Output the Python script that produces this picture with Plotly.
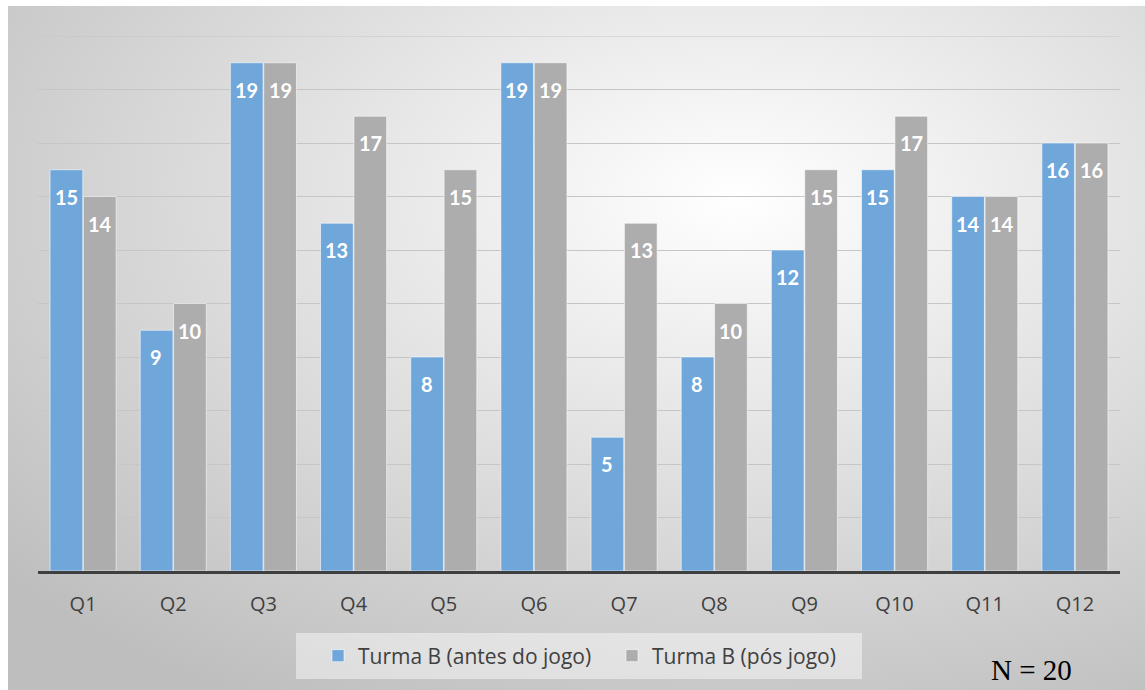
import base64
import plotly.graph_objects as go

categories = ["Q1", "Q2", "Q3", "Q4", "Q5", "Q6", "Q7", "Q8", "Q9", "Q10", "Q11", "Q12"]
antes = [15, 9, 19, 13, 8, 19, 5, 8, 12, 15, 14, 16]
pos = [14, 10, 19, 17, 15, 19, 13, 10, 15, 17, 14, 16]
series_names = ["Turma B (antes do jogo)", "Turma B (pós jogo)"]
colors = ["#6FA7DB", "#ADADAD"]

W, H = 1145, 690
L, R, T, B = 38, 25, 36, 119
pw, ph = W - L - R, H - T - B
base = H - B


def px_x(p):
    return (p - L) / pw


def px_y(p):
    return (base - p) / ph


svg = (
    '<svg xmlns="http://www.w3.org/2000/svg" width="1137" height="684" preserveAspectRatio="none">'
    '<defs><radialGradient id="g" cx="0.64" cy="0.28" r="0.85" fx="0.64" fy="0.28">'
    '<stop offset="0" stop-color="#ffffff"/><stop offset="1" stop-color="#bebebe"/>'
    '</radialGradient></defs><rect width="1137" height="684" fill="url(#g)"/></svg>'
)
src = "data:image/svg+xml;base64," + base64.b64encode(svg.encode()).decode()

fig = go.Figure()
for name, vals, col in zip(series_names, [antes, pos], colors):
    fig.add_trace(go.Bar(
        x=categories, y=vals, name=name,
        marker=dict(color=col, line=dict(color="rgba(255,255,255,0.55)", width=1)),
    ))

annotations = []
for vals, shift in [(antes, -17), (pos, 17)]:
    for c, v in zip(categories, vals):
        annotations.append(dict(
            x=c, y=v, xref="x", yref="y", text=str(v), showarrow=False,
            xshift=shift, yshift=-27,
            font=dict(family="Lato", size=20, color="white", weight="bold"),
        ))
annotations.append(dict(
    x=px_x(1031), y=px_y(670), xref="paper", yref="paper",
    xanchor="center", yanchor="middle",
    text="N = 20", showarrow=False,
    font=dict(family="Liberation Serif", size=29, color="black"),
))

shapes = [
    dict(type="rect", xref="paper", yref="paper",
         x0=px_x(296), x1=px_x(862), y0=px_y(679), y1=px_y(633),
         fillcolor="rgba(255,255,255,0.45)", line=dict(width=0), layer="below"),
    dict(type="line", xref="paper", yref="y", x0=0, x1=1, y0=20, y1=20,
         line=dict(color="#C6C6C6", width=1), layer="below"),
]

fig.update_layout(
    width=W, height=H,
    margin=dict(l=L, r=R, t=T, b=B),
    paper_bgcolor="white", plot_bgcolor="rgba(0,0,0,0)",
    barmode="group", bargap=0.26, bargroupgap=0.02,
    showlegend=True,
    legend=dict(
        orientation="h", x=px_x(318), xanchor="left",
        y=px_y(656), yanchor="middle",
        bgcolor="rgba(0,0,0,0)",
        font=dict(family="Open Sans", size=21, color="#404040"),
        entrywidth=249, itemwidth=30,
    ),
    annotations=annotations,
    shapes=shapes,
    images=[dict(
        source=src, xref="paper", yref="paper",
        x=px_x(8), y=px_y(6),
        sizex=(W - 8) / pw, sizey=(H - 6) / ph,
        sizing="stretch", layer="below", xanchor="left", yanchor="top",
    )],
)
fig.update_xaxes(
    showline=True, linecolor="#3F3F3F", linewidth=3,
    ticks="outside", ticklen=13, tickcolor="rgba(0,0,0,0)",
    tickfont=dict(family="Open Sans", size=20, color="#404040"),
    showgrid=False,
)
fig.update_yaxes(
    range=[0, 20], dtick=2, showticklabels=False,
    showgrid=True, gridcolor="#C6C6C6", gridwidth=1, zeroline=False,
)

fig.write_html("out.html")
